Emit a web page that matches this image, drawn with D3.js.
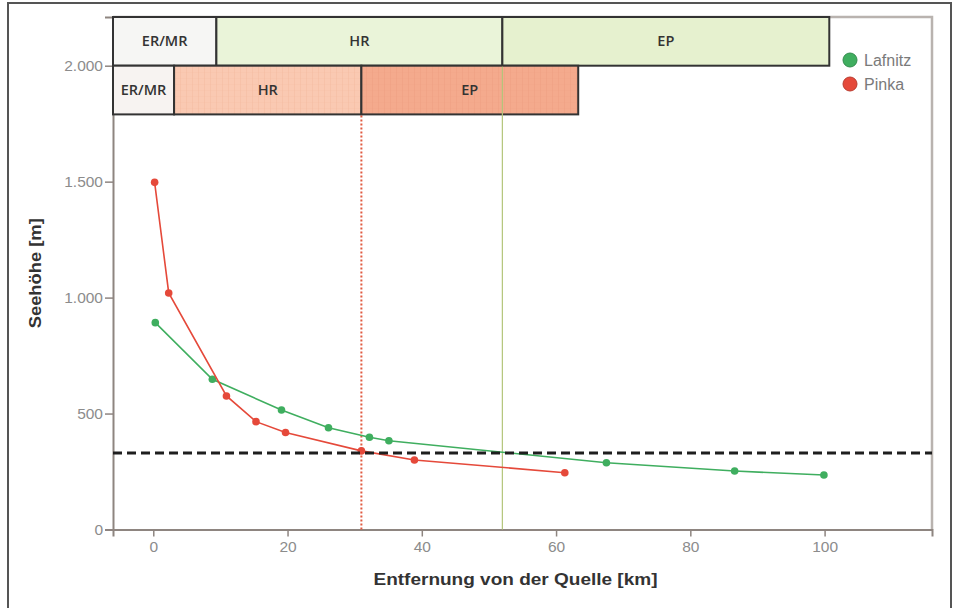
<!DOCTYPE html>
<html>
<head>
<meta charset="utf-8">
<script src="https://cdn.jsdelivr.net/npm/d3@7/dist/d3.min.js"></script>
<style>
  html, body { margin: 0; padding: 0; background: #ffffff; }
  svg { display: block; }
</style>
</head>
<body>
<svg id="chart" width="958" height="608"></svg>
<script>
// Distance from source (km) and altitude (m) for the two rivers
const lafnitzKm  = [0.3, 8.8, 19.1, 26.1, 32.2, 35.1, 67.5, 86.6, 99.9];
const lafnitzAlt = [892, 648, 515, 439, 398, 383, 288, 252, 235];
const pinkaKm    = [0.2, 2.3, 10.9, 15.3, 19.7, 31.0, 38.9, 61.3];
const pinkaAlt   = [1497, 1020, 576, 465, 418, 339, 300, 245];

// Zone bands (start/end in km) for each river
const zoneNames     = ["ER/MR", "HR", "EP"];
const lafnitzZones  = [[-6, 9.4], [9.4, 52], [52, 100.7]];
const pinkaZones    = [[-6, 3.1], [3.1, 31.0], [31.0, 63.3]];
const lafnitzBand   = [2000, 2210];
const pinkaBand     = [1790, 2000];

// Reference lines
const refAltitude   = 330;   // horizontal dashed line (m)
const pinkaBoundary = 31.0;  // HR/EP boundary Pinka (km)
const lafnitzBoundary = 52;  // HR/EP boundary Lafnitz (km)

const xTicks = [0, 20, 40, 60, 80, 100];
const yTicks = [0, 500, 1000, 1500, 2000];
const seriesNames = ["Lafnitz", "Pinka"];

const svg = d3.select("#chart");
const x = d3.scaleLinear().domain([-6, 116]).range([113, 932]);
const y = d3.scaleLinear().domain([0, 2210]).range([529.5, 17]);

const green = "#3fae5f", red = "#e5493a";
const sans = "'Liberation Sans', Arial, sans-serif";

// outer frame
svg.append("rect").attr("x", 8).attr("y", 3).attr("width", 943).attr("height", 640)
  .attr("fill", "none").attr("stroke", "#555").attr("stroke-width", 2);

// defs: faint grid texture for Pinka bands
const defs = svg.append("defs");
function gridPattern(id, base, line) {
  const p = defs.append("pattern").attr("id", id).attr("patternUnits", "userSpaceOnUse")
    .attr("width", 6).attr("height", 6);
  p.append("rect").attr("width", 6).attr("height", 6).attr("fill", base);
  p.append("line").attr("x1", 0.5).attr("x2", 0.5).attr("y1", 0).attr("y2", 6)
    .attr("stroke", line).attr("stroke-width", 1).attr("opacity", 0.35);
  p.append("line").attr("x1", 0).attr("x2", 6).attr("y1", 0.5).attr("y2", 0.5)
    .attr("stroke", line).attr("stroke-width", 1).attr("opacity", 0.15);
}
gridPattern("pinkaHR", "#fac9b2", "#f0b498");
gridPattern("pinkaEP", "#f4aa8d", "#e9977a");

// plot frame (top and right)
svg.append("path")
  .attr("d", `M${x(-6)},${y(2210)}H${x(116)}V${y(0)}`)
  .attr("fill", "none").attr("stroke", "#b9b3af").attr("stroke-width", 2.5);

// Axes
const fmt = d3.formatLocale({decimal: ",", thousands: ".", grouping: [3], currency: ["", "€"]}).format(",");
const yAxis = d3.axisLeft(y).tickValues(yTicks).tickFormat(fmt).tickSize(8).tickPadding(2);
const xAxis = d3.axisBottom(x).tickValues(xTicks).tickFormat(d3.format("d")).tickSize(7).tickPadding(4);

const gy = svg.append("g").attr("transform", `translate(${x(-6)},0)`).call(yAxis);
const gx = svg.append("g").attr("transform", `translate(0,${y(0)})`).call(xAxis);
[gx, gy].forEach(g => {
  g.select(".domain").attr("stroke", "#8e8580").attr("stroke-width", 2);
  g.selectAll(".tick line").attr("stroke", "#8e8580").attr("stroke-width", 1.5);
  g.selectAll(".tick text").attr("fill", "#8c8c8c")
    .style("font-family", sans).style("font-size", "15.5px");
});

// Zone bands
function drawBands(zones, band, fills) {
  const g = svg.append("g");
  zones.forEach((z, i) => {
    g.append("rect")
      .attr("x", x(z[0])).attr("y", y(band[1]))
      .attr("width", x(z[1]) - x(z[0])).attr("height", y(band[0]) - y(band[1]))
      .attr("fill", fills[i]).attr("stroke", "#333").attr("stroke-width", 2);
    g.append("text")
      .attr("x", (x(z[0]) + x(z[1])) / 2).attr("y", (y(band[0]) + y(band[1])) / 2)
      .attr("dy", "0.35em").attr("text-anchor", "middle")
      .attr("fill", "#333")
      .style("font-family", "'Open Sans', sans-serif").style("font-size", "14.5px")
      .style("font-weight", "600")
      .text(zoneNames[i]);
  });
}
drawBands(lafnitzZones, lafnitzBand, ["#f6f6f4", "#eaf4d9", "#e6f1cf"]);
drawBands(pinkaZones, pinkaBand, ["#f7f3f1", "url(#pinkaHR)", "url(#pinkaEP)"]);

// Zone boundary verticals
svg.append("line")
  .attr("x1", x(lafnitzBoundary)).attr("x2", x(lafnitzBoundary))
  .attr("y1", y(lafnitzBand[0]) + 1).attr("y2", y(0))
  .attr("stroke", "#b3c57a").attr("stroke-width", 1.2);
svg.append("line")
  .attr("x1", x(pinkaBoundary)).attr("x2", x(pinkaBoundary))
  .attr("y1", y(pinkaBand[0]) + 1).attr("y2", y(0))
  .attr("stroke", "#e05a40").attr("stroke-width", 2).attr("stroke-dasharray", "2,2");

// Series lines and points
function drawSeries(kms, alts, color) {
  const pts = kms.map((k, i) => [k, alts[i]]);
  svg.append("path").datum(pts)
    .attr("d", d3.line().x(d => x(d[0])).y(d => y(d[1])))
    .attr("fill", "none").attr("stroke", color).attr("stroke-width", 1.6);
  svg.append("g").selectAll("circle").data(pts).join("circle")
    .attr("cx", d => x(d[0])).attr("cy", d => y(d[1])).attr("r", 3.8)
    .attr("fill", color);
}
drawSeries(lafnitzKm, lafnitzAlt, green);
drawSeries(pinkaKm, pinkaAlt, red);

// Horizontal reference line
svg.append("line")
  .attr("x1", x(-6)).attr("x2", x(116))
  .attr("y1", y(refAltitude)).attr("y2", y(refAltitude))
  .attr("stroke", "#1e1e1e").attr("stroke-width", 3).attr("stroke-dasharray", "9,5");

// Axis titles
svg.append("text")
  .attr("transform", `translate(35,${(y(0) + y(2210)) / 2}) rotate(-90)`)
  .attr("text-anchor", "middle").attr("dy", "0.35em")
  .attr("fill", "#333").style("font-family", sans)
  .style("font-size", "17px").style("font-weight", "bold")
  .attr("textLength", 110).attr("lengthAdjust", "spacingAndGlyphs")
  .text("Seehöhe [m]");
svg.append("text")
  .attr("x", (x(-6) + x(116)) / 2 - 7).attr("y", 585)
  .attr("text-anchor", "middle")
  .attr("fill", "#333").style("font-family", sans)
  .style("font-size", "17px").style("font-weight", "bold")
  .attr("textLength", 284).attr("lengthAdjust", "spacingAndGlyphs")
  .text("Entfernung von der Quelle [km]");

// Legend
const legend = svg.append("g").attr("transform", "translate(850,60)");
seriesNames.forEach((name, i) => {
  const c = i === 0 ? green : red;
  legend.append("circle").attr("cx", 0).attr("cy", i * 24).attr("r", 7)
    .attr("fill", c).attr("stroke", d3.color(c).darker(0.6)).attr("stroke-width", 1);
  legend.append("text").attr("x", 14).attr("y", i * 24).attr("dy", "0.35em")
    .attr("fill", "#7a7a7a").style("font-family", sans)
    .style("font-size", "16px").text(name);
});
</script>
</body>
</html>
